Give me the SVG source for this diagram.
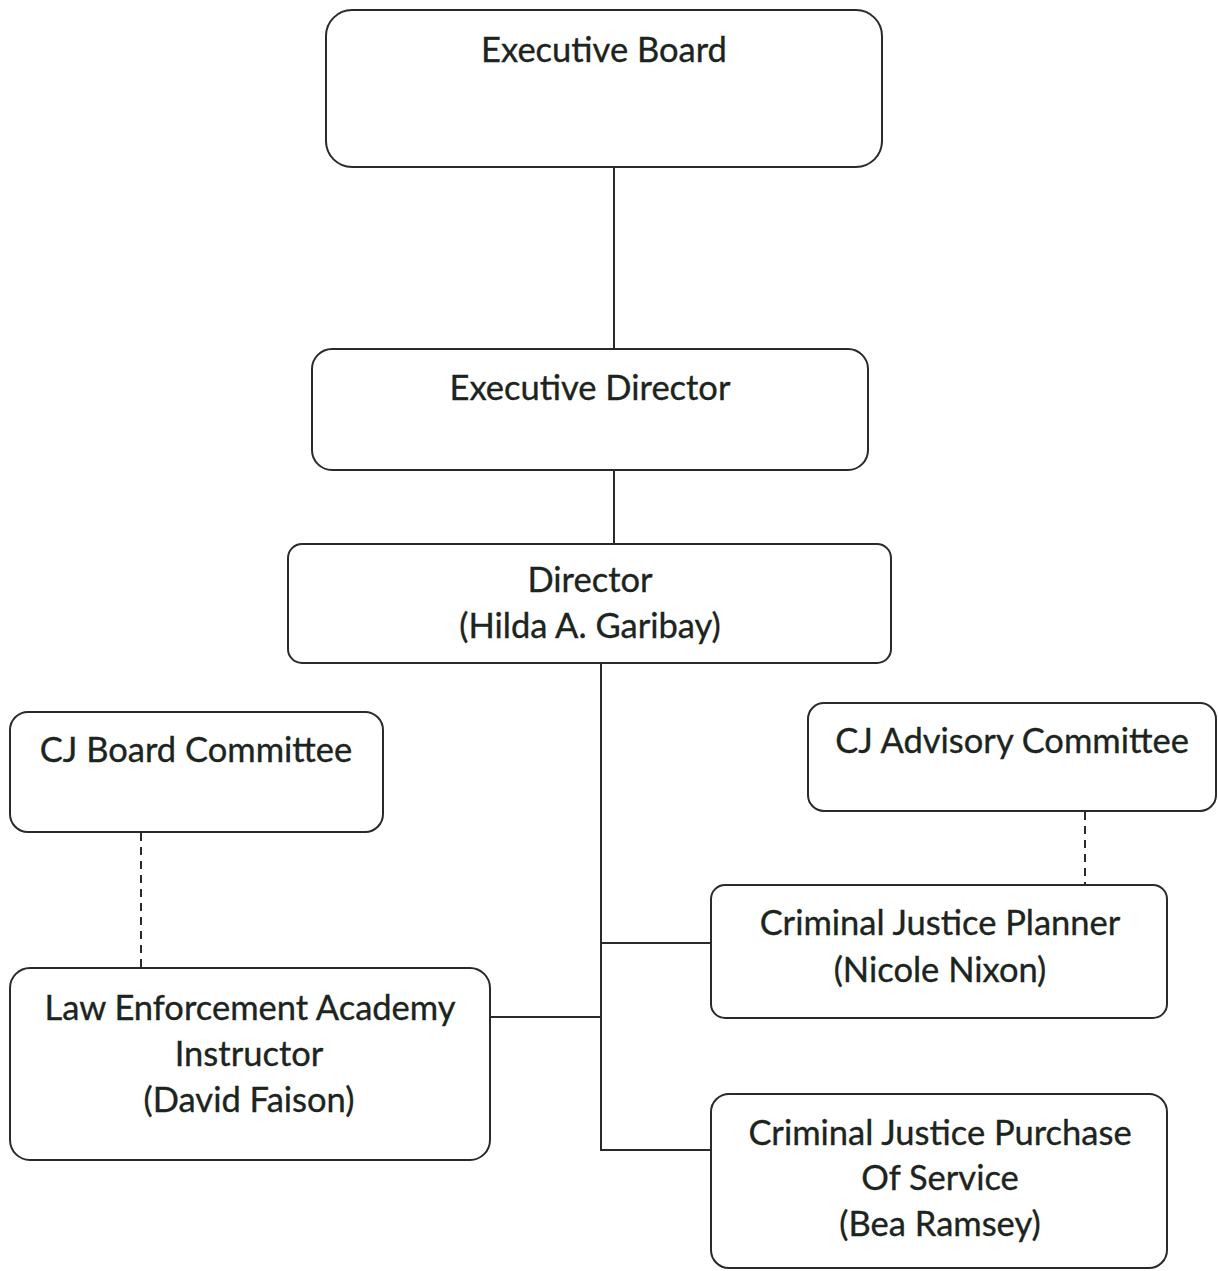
<svg xmlns="http://www.w3.org/2000/svg" width="1218" height="1271" viewBox="0 0 1218 1271">
  <style>
    .box { fill: #ffffff; stroke: #2a2a2a; stroke-width: 2; }
    .lbl { font-family: Lato, "Liberation Sans", sans-serif; font-size: 34.5px; fill: #1c2420; text-anchor: middle; stroke: #1c2420; stroke-width: 0.35; }
    .link { stroke: #2a2a2a; stroke-width: 2; fill: none; }
    .dash { stroke: #2a2a2a; stroke-width: 2; fill: none; stroke-dasharray: 8 6; }
  </style>
  <rect width="1218" height="1271" fill="#ffffff"/>

  <!-- reporting lines -->
  <g id="connectors">
    <line class="link" x1="614" y1="167" x2="614" y2="349"/>
    <line class="link" x1="614" y1="470" x2="614" y2="544"/>
    <line class="link" x1="601" y1="663" x2="601" y2="1151"/>
    <line class="link" x1="601" y1="943" x2="711" y2="943"/>
    <line class="link" x1="490" y1="1017" x2="601" y2="1017"/>
    <line class="link" x1="601" y1="1150" x2="711" y2="1150"/>
    <line class="dash" x1="141" y1="833" x2="141" y2="967"/>
    <line class="dash" x1="1085" y1="812" x2="1085" y2="885"/>
  </g>

  <g id="executive-board">
    <rect class="box" x="326" y="10" width="556" height="157" rx="26"/>
    <text class="lbl" x="604" y="62">Executive Board</text>
  </g>

  <g id="executive-director">
    <rect class="box" x="312" y="349" width="556" height="121" rx="20"/>
    <text class="lbl" x="590" y="400">Executive Director</text>
  </g>

  <g id="director">
    <rect class="box" x="288" y="544" width="603" height="119" rx="14"/>
    <text class="lbl" x="590" y="592">Director</text>
    <text class="lbl" x="590" y="638">(Hilda A. Garibay)</text>
  </g>

  <g id="cj-board-committee">
    <rect class="box" x="10" y="712" width="373" height="120" rx="18"/>
    <text class="lbl" x="196" y="762">CJ Board Committee</text>
  </g>

  <g id="law-enforcement-instructor">
    <rect class="box" x="10" y="968" width="480" height="192" rx="20"/>
    <text class="lbl" x="250" y="1020">Law Enforcement Academy</text>
    <text class="lbl" x="249" y="1066">Instructor</text>
    <text class="lbl" x="249" y="1112">(David Faison)</text>
  </g>

  <g id="cj-advisory-committee">
    <rect class="box" x="808" y="703" width="408" height="108" rx="16"/>
    <text class="lbl" x="1012" y="753">CJ Advisory Committee</text>
  </g>

  <g id="cj-planner">
    <rect class="box" x="711" y="885" width="456" height="133" rx="14"/>
    <text class="lbl" x="940" y="935">Criminal Justice Planner</text>
    <text class="lbl" x="940" y="982">(Nicole Nixon)</text>
  </g>

  <g id="cj-purchase-of-service">
    <rect class="box" x="711" y="1094" width="456" height="174" rx="18"/>
    <text class="lbl" x="940" y="1145">Criminal Justice Purchase</text>
    <text class="lbl" x="940" y="1190">Of Service</text>
    <text class="lbl" x="940" y="1236">(Bea Ramsey)</text>
  </g>
</svg>
